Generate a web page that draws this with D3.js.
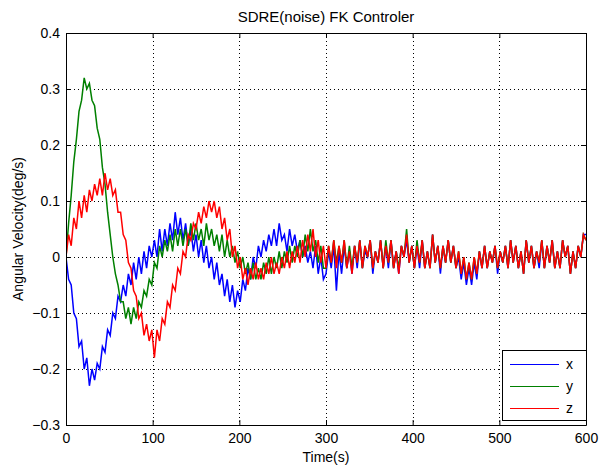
<!DOCTYPE html>
<html><head><meta charset="utf-8">
<script src="https://cdn.jsdelivr.net/npm/d3@7"></script>
<style>body{margin:0;background:#fff}svg{display:block}text{font-family:"Liberation Sans",Arial,sans-serif;fill:#000}</style>
</head><body>
<script>
const title = "SDRE(noise) FK Controler";
const xLabel = "Time(s)";
const yLabel = "Angular Velocity(deg/s)";
const xTicks = [0,100,200,300,400,500,600];
const yTicks = [-0.3,-0.2,-0.1,0,0.1,0.2,0.3,0.4];
const seriesNames = ["x","y","z"];
const seriesColors = ["#0000ff","#008000","#ff0000"];
const sampleStep = 3; // seconds between samples, t = 0..600

const xData = [
 0,-0.04,-0.05,-0.10,-0.11,-0.16,-0.15,-0.20,-0.18,-0.23,
 -0.20,-0.22,-0.19,-0.20,-0.16,-0.17,-0.13,-0.14,-0.10,-0.11,
 -0.07,-0.08,-0.05,-0.07,-0.03,-0.05,-0.01,-0.04,0.00,-0.03,
 0.01,-0.02,0.02,0.00,0.03,0.00,0.05,0.01,0.05,0.02,
 0.06,0.03,0.08,0.04,0.07,0.03,0.06,0.02,0.05,0.01,
 0.04,0.00,0.03,-0.01,0.02,-0.02,0.00,-0.04,-0.01,-0.05,
 -0.03,-0.07,-0.04,-0.08,-0.05,-0.09,-0.06,-0.08,-0.04,-0.06,
 -0.02,-0.04,0.00,-0.02,0.02,0.00,0.03,0.01,0.04,0.02,
 0.05,0.02,0.06,0.03,0.04,0.01,0.05,0.02,0.04,0.01,
 0.03,0.00,0.02,-0.01,0.01,-0.02,0.02,-0.03,0.00,-0.04,
 -0.03,0.01,-0.02,0.02,-0.06,0.01,-0.03,0.02,-0.02,0.01,
 -0.03,0.02,-0.02,0.03,-0.02,0.01,0.00,0.03,-0.03,0.01,
 -0.01,0.03,-0.02,0.02,-0.02,0.03,-0.02,0.01,-0.03,0.02,
 0.00,0.03,-0.01,0.02,-0.02,0.02,-0.02,0.03,-0.02,0.01,
 -0.02,0.04,-0.01,0.02,-0.03,0.02,-0.01,0.03,-0.01,0.02,
 -0.02,0.00,-0.04,-0.01,-0.05,-0.02,-0.05,-0.01,-0.04,0.01,
 -0.02,0.02,-0.02,0.01,-0.01,0.02,-0.03,0.01,-0.01,0.02,
 -0.02,0.03,-0.01,0.02,-0.02,0.01,-0.03,0.03,-0.01,0.02,
 -0.02,0.01,-0.02,0.03,-0.02,0.02,-0.01,0.03,-0.02,0.01,
 -0.02,0.03,0.00,0.02,-0.03,0.01,-0.02,0.02,0.00,0.04,
 0.04
];
const yData = [
 0.00,0.06,0.11,0.17,0.21,0.26,0.28,0.32,0.30,0.31,
 0.28,0.27,0.23,0.21,0.16,0.13,0.08,0.04,0.00,-0.03,
 -0.05,-0.08,-0.08,-0.11,-0.09,-0.12,-0.09,-0.11,-0.08,-0.09,
 -0.06,-0.07,-0.04,-0.05,-0.01,-0.02,0.02,0.00,0.03,0.01,
 0.04,0.01,0.05,0.02,0.05,0.02,0.05,0.02,0.06,0.03,
 0.06,0.03,0.05,0.02,0.06,0.03,0.05,0.02,0.04,0.01,
 0.04,0.00,0.03,0.00,0.02,-0.01,0.01,-0.02,0.00,-0.03,
 -0.01,-0.04,-0.01,-0.04,-0.02,-0.04,-0.01,-0.03,0.00,-0.03,
 0.00,-0.02,0.01,-0.02,0.01,-0.01,0.02,-0.01,0.02,0.00,
 0.03,0.00,0.04,0.01,0.05,0.01,0.03,-0.01,0.02,-0.02,
 -0.02,0.02,-0.01,0.03,-0.01,0.02,-0.01,0.03,-0.02,0.02,
 -0.02,0.02,-0.01,0.03,-0.02,0.02,0.00,0.03,-0.02,0.01,
 -0.01,0.03,-0.02,0.03,-0.01,0.03,-0.02,0.01,-0.02,0.02,
 0.00,0.05,-0.01,0.02,-0.02,0.03,-0.01,0.03,-0.02,0.01,
 -0.02,0.04,-0.01,0.02,-0.02,0.02,-0.01,0.03,-0.01,0.02,
 -0.02,0.01,-0.03,0.00,-0.04,-0.01,-0.04,0.00,-0.03,0.01,
 -0.02,0.02,-0.02,0.01,-0.01,0.02,-0.02,0.01,-0.01,0.02,
 -0.02,0.03,-0.01,0.02,-0.02,0.01,-0.03,0.03,-0.01,0.02,
 -0.02,0.01,-0.01,0.03,-0.02,0.02,-0.01,0.03,-0.02,0.01,
 -0.02,0.03,0.00,0.02,-0.03,0.01,-0.02,0.02,0.00,0.04,
 0.03
];
const zData = [
 0.00,0.04,0.02,0.07,0.05,0.10,0.07,0.11,0.08,0.12,
 0.10,0.13,0.11,0.14,0.11,0.15,0.12,0.14,0.11,0.12,
 0.08,0.08,0.04,0.03,-0.01,-0.02,-0.06,-0.07,-0.11,-0.10,
 -0.14,-0.12,-0.15,-0.13,-0.18,-0.13,-0.15,-0.11,-0.12,-0.08,
 -0.09,-0.05,-0.06,-0.02,-0.03,0.01,0.00,0.04,0.03,0.06,
 0.05,0.08,0.06,0.09,0.07,0.10,0.08,0.10,0.07,0.09,
 0.05,0.07,0.03,0.05,0.00,0.02,-0.02,0.00,-0.04,-0.02,
 -0.05,-0.02,-0.04,-0.01,-0.04,-0.02,-0.04,-0.01,-0.03,0.00,
 -0.03,-0.01,-0.03,0.00,-0.02,0.01,-0.02,0.01,-0.01,0.02,
 -0.01,0.03,0.00,0.04,0.01,0.05,0.00,0.03,-0.01,0.02,
 -0.02,0.02,-0.01,0.03,-0.02,0.02,-0.01,0.03,-0.02,0.01,
 -0.03,0.02,-0.01,0.03,-0.02,0.02,0.00,0.03,-0.02,0.01,
 -0.01,0.03,-0.02,0.02,-0.01,0.03,-0.02,0.01,-0.03,0.02,
 0.00,0.04,-0.01,0.02,-0.02,0.02,-0.01,0.03,-0.02,0.01,
 -0.02,0.04,-0.01,0.02,-0.02,0.02,-0.01,0.03,-0.01,0.02,
 -0.02,0.01,-0.03,0.00,-0.04,-0.01,-0.04,0.00,-0.03,0.01,
 -0.02,0.02,-0.02,0.01,-0.01,0.02,-0.02,0.01,-0.01,0.02,
 -0.02,0.03,-0.01,0.02,-0.02,0.01,-0.03,0.03,-0.01,0.02,
 -0.02,0.01,-0.01,0.03,-0.02,0.02,-0.01,0.03,-0.02,0.01,
 -0.02,0.03,0.00,0.02,-0.03,0.01,-0.02,0.02,0.00,0.04,
 0.03
];
const seriesData = [xData, yData, zData];

const W = 602, H = 468;
const m = {left:66, right:16, top:33, bottom:43};
const svg = d3.select("body").append("svg").attr("width",W).attr("height",H);
const x = d3.scaleLinear().domain([0,600]).range([m.left, W-m.right]);
const y = d3.scaleLinear().domain([-0.3,0.4]).range([H-m.bottom, m.top]);

// grid
const grid = svg.append("g").attr("stroke","#000").attr("stroke-width",1).attr("stroke-dasharray","1,3");
grid.selectAll(".gx").data(xTicks.slice(1,-1)).join("line")
  .attr("x1",d=>Math.round(x(d))+0.5).attr("x2",d=>Math.round(x(d))+0.5)
  .attr("y1",y(0.4)).attr("y2",y(-0.3));
grid.selectAll(".gy").data(yTicks.slice(1,-1)).join("line")
  .attr("y1",d=>Math.round(y(d))+0.5).attr("y2",d=>Math.round(y(d))+0.5)
  .attr("x1",x(0)).attr("x2",x(600));

// series
const line = d3.line().x((d,i)=>x(i*sampleStep)).y(d=>y(d));
svg.append("clipPath").attr("id","c").append("rect")
  .attr("x",x(0)).attr("y",y(0.4)).attr("width",x(600)-x(0)).attr("height",y(-0.3)-y(0.4));
seriesData.forEach((s,k)=>{
  svg.append("path").datum(s).attr("d",line).attr("fill","none")
    .attr("stroke",seriesColors[k]).attr("stroke-width",1.5).attr("stroke-linejoin","miter")
    .attr("clip-path","url(#c)");
});

// axes
const tl = 5;
const fs = 14;
const axB = svg.append("g").attr("transform",`translate(0,${y(-0.3)})`)
  .call(d3.axisBottom(x).tickValues(xTicks).tickSizeInner(-tl).tickSizeOuter(0).tickPadding(8).tickFormat(d3.format("d")));
const axT = svg.append("g").attr("transform",`translate(0,${y(0.4)})`)
  .call(d3.axisTop(x).tickValues(xTicks).tickSizeInner(-tl).tickSizeOuter(0).tickFormat(""));
const axL = svg.append("g").attr("transform",`translate(${x(0)},0)`)
  .call(d3.axisLeft(y).tickValues(yTicks).tickSizeInner(-tl).tickSizeOuter(0).tickPadding(6).tickFormat(d=>d===0?"0":d3.format(".1f")(d)));
const axR = svg.append("g").attr("transform",`translate(${x(600)},0)`)
  .call(d3.axisRight(y).tickValues(yTicks).tickSizeInner(-tl).tickSizeOuter(0).tickFormat(""));
[axB,axT,axL,axR].forEach(a=>{
  a.selectAll("path").attr("stroke","#000");
  a.selectAll("line").attr("stroke","#000");
  a.selectAll("text").attr("font-size",fs).attr("font-family","Liberation Sans, Arial, sans-serif").attr("fill","#000");
});

// labels
svg.append("text").attr("x",(x(0)+x(600))/2).attr("y",22).attr("text-anchor","middle").attr("font-size",15).text(title);
svg.append("text").attr("x",(x(0)+x(600))/2).attr("y",462).attr("text-anchor","middle").attr("font-size",fs).text(xLabel);
svg.append("text").attr("transform",`translate(23,${(y(0.4)+y(-0.3))/2}) rotate(-90)`).attr("text-anchor","middle").attr("font-size",fs).text(yLabel);

// legend
const lg = svg.append("g");
lg.append("rect").attr("x",502.5).attr("y",350.5).attr("width",84).attr("height",70).attr("fill","#fff").attr("stroke","#000");
seriesNames.forEach((n,k)=>{
  const yy = 364 + k*22;
  lg.append("line").attr("x1",510).attr("x2",559).attr("y1",yy+0.5).attr("y2",yy+0.5).attr("stroke",seriesColors[k]).attr("stroke-width",1);
  lg.append("text").attr("x",566).attr("y",yy+5).attr("font-size",fs).text(n);
});
</script>
</body></html>
